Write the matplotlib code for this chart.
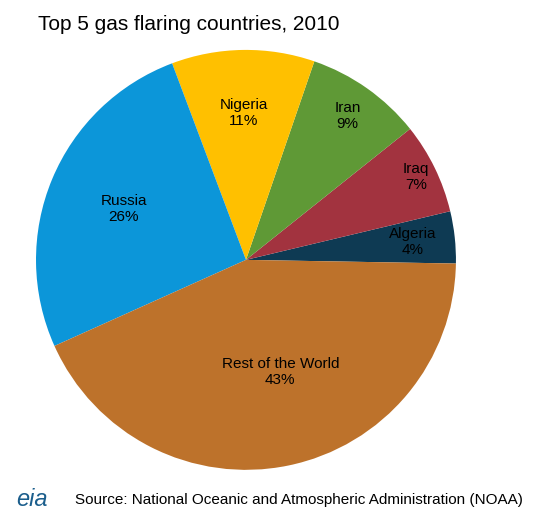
import matplotlib.pyplot as plt
import numpy as np

countries = ['Algeria', 'Iraq', 'Iran', 'Nigeria', 'Russia', 'Rest of the World']
shares = [4, 7, 9, 11, 26, 43]
colors = ['#0e3a53', '#a2333f', '#5f9936', '#ffc000', '#0c96d9', '#bd722b']
label_r = [0.80, 0.90, 0.84, 0.70, 0.63, 0.56]

fig = plt.figure(figsize=(5.54, 5.25), dpi=100)
ax = fig.add_axes([0.065, 0.105, 0.758, 0.8])
wedges, _ = ax.pie(shares, colors=colors, startangle=-1, counterclock=True,
                   wedgeprops=dict(linewidth=0))
ax.set_xlim(-1, 1)
ax.set_ylim(-1, 1)
ax.set_aspect('equal')

for w, name, val, r in zip(wedges, countries, shares, label_r):
    ang = np.deg2rad((w.theta1 + w.theta2) / 2)
    # Rest of the World label sits a bit right of the slice middle
    if name == 'Rest of the World':
        ang = np.deg2rad(287)
    ax.text(r * np.cos(ang), r * np.sin(ang), f'{name}\n{val}%',
            ha='center', va='center', fontsize=11, family='Liberation Sans')

fig.text(0.068, 0.953, 'Top 5 gas flaring countries, 2010', fontsize=15,
         family='Liberation Sans', va='center')
fig.text(0.03, 0.048, 'eia', fontsize=17, color='#1b5e8c', style='italic',
         family='Liberation Sans', va='center')
fig.text(0.135, 0.048, 'Source: National Oceanic and Atmospheric Administration (NOAA)',
         fontsize=11, family='Liberation Sans', va='center')

fig.savefig('out.png')
